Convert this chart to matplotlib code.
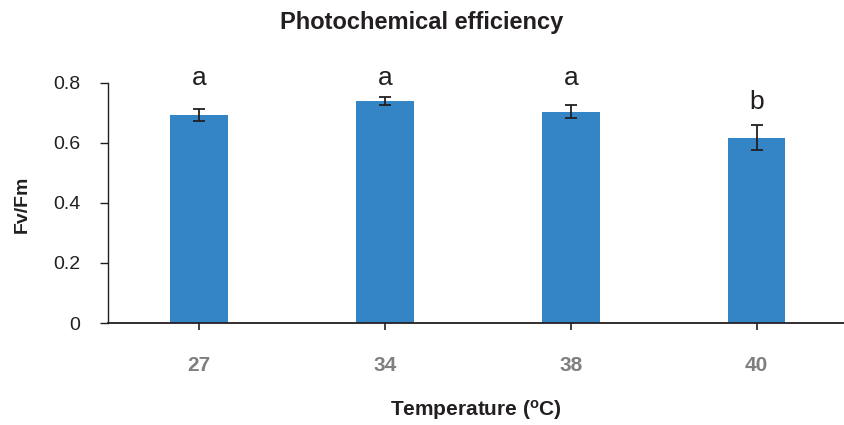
import matplotlib
matplotlib.use("Agg")
import matplotlib.pyplot as plt
import numpy as np

plt.rcParams["font.family"] = ["Liberation Sans", "DejaVu Sans"]

# data
temperatures = ["27", "34", "38", "40"]
fv_fm = [0.693, 0.740, 0.704, 0.617]
fv_fm_err = [0.020, 0.013, 0.021, 0.042]
letters = ["a", "a", "a", "b"]

BAR_COLOR = "#3385C6"
AXIS_COLOR = "#231F20"
TICK_GRAY = "#7F7F7F"

fig = plt.figure(figsize=(8.44, 4.25), dpi=100)
ax = fig.add_axes([0.128, 0.24, 0.872, 0.565])

x = np.arange(len(temperatures))
ax.bar(x, fv_fm, width=0.31, color=BAR_COLOR, zorder=2)
ax.errorbar(x, fv_fm, yerr=fv_fm_err, fmt="none", ecolor=AXIS_COLOR,
            elinewidth=1.3, capsize=4, capthick=1.3, zorder=3)

# significance letters (Excel-style, placed by hand above the bars)
letter_y = [0.815, 0.815, 0.815, 0.735]
for xi, lab, ly in zip(x, letters, letter_y):
    ax.text(xi, ly, lab, ha="center", va="center", fontsize=19,
            color=AXIS_COLOR, clip_on=False)

ax.set_xlim(-0.49, 3.47)
ax.set_ylim(0, 0.8)
ax.set_yticks([0, 0.2, 0.4, 0.6, 0.8])
ax.set_yticklabels(["0", "0.2", "0.4", "0.6", "0.8"], fontsize=14, color=AXIS_COLOR)
ax.set_xticks(x)
ax.set_xticklabels(temperatures, fontsize=15, fontweight="bold", color=TICK_GRAY)
ax.tick_params(axis="x", length=5, width=1.2, color=AXIS_COLOR, pad=19)
ax.tick_params(axis="y", length=6, width=1.0, color=AXIS_COLOR, pad=14)

for side in ("top", "right"):
    ax.spines[side].set_visible(False)
ax.spines["left"].set_color(AXIS_COLOR)
ax.spines["bottom"].set_color(AXIS_COLOR)
ax.spines["left"].set_linewidth(1.0)
ax.spines["bottom"].set_linewidth(1.3)
ax.spines["bottom"].set_clip_on(False)

fig.text(0.5, 0.948, "Photochemical efficiency", ha="center", va="center",
         fontsize=17, fontweight="bold", color=AXIS_COLOR)
fig.text(0.026, 0.52, "Fv/Fm", ha="center", va="center", rotation=90,
         fontsize=14, fontweight="bold", color=AXIS_COLOR)
fig.text(0.564, 0.035, r"Temperature ($\mathregular{^{o}}$C)", ha="center", va="center",
         fontsize=15, fontweight="bold", color=AXIS_COLOR)

fig.savefig("out.png", dpi=100)
